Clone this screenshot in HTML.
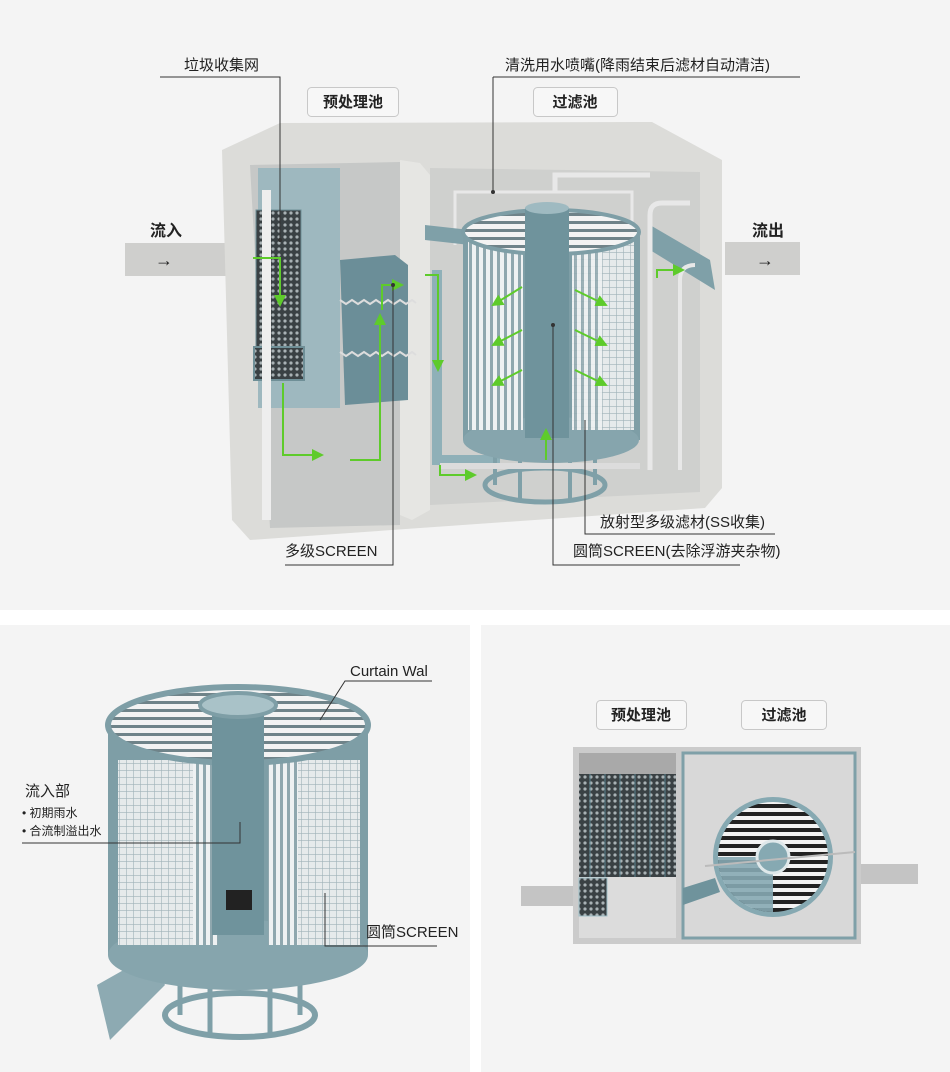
<!DOCTYPE html>
<html><head><meta charset="utf-8"><style>
body{margin:0;width:950px;height:1072px;background:#fff;font-family:"Liberation Sans","Noto Sans CJK SC",sans-serif;}
svg{display:block}
text{font-family:"Liberation Sans","Noto Sans CJK SC",sans-serif;fill:#222}
</style></head><body>
<svg width="950" height="1072" viewBox="0 0 950 1072" xmlns="http://www.w3.org/2000/svg">
<defs>
<pattern id="vs" width="7" height="10" patternUnits="userSpaceOnUse"><rect width="7" height="10" fill="#eef1f2"/><rect width="3" height="10" fill="#8fa7ae"/></pattern>
<pattern id="grid" width="7" height="7" patternUnits="userSpaceOnUse"><rect width="7" height="7" fill="#e6eaeb"/><path d="M0 0H7M0 0V7" stroke="#9fb2b8" stroke-width="1.2"/></pattern>
<pattern id="mesh" width="6" height="6" patternUnits="userSpaceOnUse"><rect width="6" height="6" fill="#3a4144"/><circle cx="3" cy="3" r="1.6" fill="#a9b2b5"/></pattern>
<pattern id="spiral" width="8" height="8" patternUnits="userSpaceOnUse"><rect width="8" height="8" fill="#6f8389"/><rect width="8" height="5" fill="#f3f3f3"/></pattern>
<pattern id="spiral2" width="8" height="8" patternUnits="userSpaceOnUse"><rect width="8" height="8" fill="#222"/><rect width="8" height="4" fill="#f3f3f3"/></pattern>
<marker id="ga" markerWidth="6" markerHeight="6" refX="5" refY="3" orient="auto"><path d="M0,0 L6,3 L0,6z" fill="#5ecb2b"/></marker>
</defs>
<rect x="0" y="0" width="950" height="610" fill="#f4f4f4"/>
<rect x="0" y="625" width="470" height="447" fill="#f4f4f4"/>
<rect x="481" y="625" width="469" height="447" fill="#f4f4f4"/>

<rect x="125" y="243" width="115" height="33" fill="#cfcfcd"/>
<rect x="725" y="242" width="75" height="33" fill="#cfcfcd"/>
<polygon points="222,150 280,123 652,122 722,160 722,488 705,508 250,540 232,520" fill="#dcdcd9"/>
<polygon points="250,165 400,162 400,525 270,528" fill="#c6c8c7"/>
<polygon points="430,168 700,172 700,492 430,505" fill="#cfd0ce"/>
<polygon points="400,160 420,163 430,175 430,510 412,520 400,515" fill="#e6e6e3"/>
<rect x="258" y="168" width="82" height="240" fill="#9eb8bf"/>
<rect x="256" y="210" width="45" height="150" fill="url(#mesh)" stroke="#6f8f97"/>
<rect x="254" y="347" width="50" height="33" fill="url(#mesh)" stroke="#6f8f97" stroke-width="2"/>
<rect x="262" y="190" width="9" height="330" fill="#eeeeee"/>
<polygon points="340,260 395,255 408,265 408,400 345,405" fill="#6b8e98"/>
<path d="M340 300 l6 4 l6 -4 l6 4 l6 -4 l6 4 l6 -4 l6 4 l6 -4 l6 4 l6 -4 l6 4 l6 -4 l4 3 M340 352 l6 4 l6 -4 l6 4 l6 -4 l6 4 l6 -4 l6 4 l6 -4 l6 4 l6 -4 l6 4 l6 -4 l4 3" stroke="#ddd" stroke-width="2" fill="none"/>
<path d="M437 270 V460 H500" stroke="#8fb0b8" stroke-width="10" fill="none"/>
<polyline points="455,245 455,192 632,192 632,245" stroke="#e8e8e8" stroke-width="3" fill="none"/>
<polyline points="555,192 555,175 650,175" stroke="#e8e8e8" stroke-width="5" fill="none"/>
<polygon points="650,225 710,260 715,290 650,250" fill="#7fa0a8"/>
<polygon points="425,225 470,230 470,245 425,240" fill="#7fa0a8"/>
<path d="M650 470 V215 Q650 203 662 203 H690" stroke="#e8e8e8" stroke-width="5" fill="none"/>
<path d="M680 470 V280 Q680 265 695 265" stroke="#e8e8e8" stroke-width="4" fill="none"/>
<ellipse cx="545" cy="485" rx="60" ry="17" fill="none" stroke="#7fa0a8" stroke-width="5"/>
<path d="M495 440 V485 M520 440 V500 M570 440 V500 M595 440 V485" stroke="#7fa0a8" stroke-width="4"/>
<rect x="440" y="463" width="200" height="6" fill="#dcdcdc"/>
<rect x="463" y="228" width="177" height="212" fill="#7e9ea6"/>
<ellipse cx="551" cy="440" rx="88" ry="23" fill="#86a5ad"/>
<rect x="468" y="240" width="55" height="190" fill="url(#vs)"/>
<rect x="572" y="240" width="62" height="190" fill="url(#grid)"/>
<rect x="572" y="240" width="30" height="190" fill="url(#vs)" opacity=".85"/>
<ellipse cx="551" cy="232" rx="88" ry="22" fill="url(#spiral)" stroke="#7e9ea6" stroke-width="4"/>
<rect x="525" y="208" width="44" height="230" fill="#6f939c"/>
<ellipse cx="547" cy="208" rx="22" ry="6" fill="#9fbac1"/>
<g stroke="#5ecb2b" stroke-width="2" fill="none" marker-end="url(#ga)">
<path d="M253 258 H280 V305"/>
<path d="M283 383 V455 H322"/>
<path d="M350 460 H380 V315"/>
<path d="M382 310 V285 H402"/>
<path d="M425 275 H438 V370"/>
<path d="M440 465 V475 H475"/>
<path d="M522 287 L493 305"/><path d="M522 330 L493 345"/><path d="M522 370 L493 385"/>
<path d="M575 290 L606 305"/><path d="M575 330 L606 345"/><path d="M575 370 L606 385"/>
<path d="M546 460 V430"/>
<path d="M657 278 V270 H683"/>
</g>
<text x="184" y="70" font-size="15">垃圾收集网</text>
<path d="M160 77 H280 V240" stroke="#333" fill="none"/>
<circle cx="280" cy="240" r="2" fill="#333"/>
<rect x="307.5" y="87.5" width="91" height="29" rx="4" fill="#f7f7f7" stroke="#c8c8c8"/>
<text x="353" y="107" font-size="15" font-weight="bold" text-anchor="middle">预处理池</text>
<rect x="533.5" y="87.5" width="84" height="29" rx="4" fill="#f7f7f7" stroke="#c8c8c8"/>
<text x="575" y="107" font-size="15" font-weight="bold" text-anchor="middle">过滤池</text>
<text x="505" y="70" font-size="15">清洗用水喷嘴(降雨结束后滤材自动清洁)</text>
<path d="M493 77 H800 M493 77 V192" stroke="#333" fill="none"/>
<circle cx="493" cy="192" r="2" fill="#333"/>
<text x="150" y="236" font-size="16" font-weight="bold">流入</text>
<text x="155" y="266" font-size="18">→</text>
<text x="752" y="236" font-size="16" font-weight="bold">流出</text>
<text x="756" y="266" font-size="18">→</text>
<text x="600" y="527" font-size="15">放射型多级滤材(SS收集)</text>
<path d="M585 420 V534 H775" stroke="#333" fill="none"/>
<text x="573" y="556" font-size="15">圆筒SCREEN(去除浮游夹杂物)</text>
<path d="M553 325 V565 H740" stroke="#333" fill="none"/>
<circle cx="553" cy="325" r="2" fill="#333"/>
<text x="285" y="556" font-size="15">多级SCREEN</text>
<path d="M285 565 H393 V285" stroke="#333" fill="none"/>
<circle cx="393" cy="285" r="2" fill="#333"/>

<ellipse cx="240" cy="1015" rx="75" ry="22" fill="none" stroke="#7fa0a8" stroke-width="6"/>
<path d="M180 960 V1015 M210 960 V1035 M270 960 V1035 M300 960 V1015" stroke="#7fa0a8" stroke-width="5"/>
<polygon points="97,985 150,955 165,985 110,1040" fill="#8daab2"/>
<rect x="108" y="725" width="260" height="230" fill="#7e9ea6"/>
<ellipse cx="238" cy="955" rx="130" ry="35" fill="#86a5ad"/>
<rect x="118" y="760" width="75" height="185" fill="url(#grid)"/>
<rect x="193" y="745" width="25" height="200" fill="url(#vs)"/>
<rect x="268" y="745" width="30" height="200" fill="url(#vs)"/>
<rect x="298" y="760" width="62" height="185" fill="url(#grid)"/>
<ellipse cx="238" cy="725" rx="130" ry="38" fill="url(#spiral)" stroke="#7e9ea6" stroke-width="6"/>
<rect x="212" y="705" width="52" height="230" fill="#6f939c"/>
<ellipse cx="238" cy="705" rx="38" ry="12" fill="#a9c2c8" stroke="#7e9ea6" stroke-width="4"/>
<rect x="226" y="890" width="26" height="20" fill="#222"/>
<text x="350" y="676" font-size="15">Curtain Wal</text>
<path d="M432 681 H345 L320 720" stroke="#333" fill="none"/>
<text x="25" y="796" font-size="15">流入部</text>
<text x="22" y="817" font-size="12">•  初期雨水</text>
<text x="22" y="835" font-size="12">•  合流制溢出水</text>
<path d="M22 843 H240 V822" stroke="#333" fill="none"/>
<text x="366" y="937" font-size="15">圆筒SCREEN</text>
<path d="M437 946 H325 V893" stroke="#333" fill="none"/>

<rect x="596.5" y="700.5" width="90" height="29" rx="4" fill="#f7f7f7" stroke="#c8c8c8"/>
<text x="641" y="720" font-size="15" font-weight="bold" text-anchor="middle">预处理池</text>
<rect x="741.5" y="700.5" width="85" height="29" rx="4" fill="#f7f7f7" stroke="#c8c8c8"/>
<text x="784" y="720" font-size="15" font-weight="bold" text-anchor="middle">过滤池</text>
<rect x="521" y="886" width="55" height="20" fill="#c4c4c4"/>
<rect x="858" y="864" width="60" height="20" fill="#c4c4c4"/>
<rect x="573" y="747" width="288" height="197" fill="#cbcbcb"/>
<rect x="579" y="753" width="97" height="185" fill="#dcdcdc"/>
<rect x="579" y="753" width="97" height="21" fill="#a9a9a9"/>
<rect x="579" y="774" width="97" height="103" fill="url(#mesh)"/>
<path d="M590 774V877M605 774V877M620 774V877M635 774V877M650 774V877M665 774V877" stroke="#5f8c98" stroke-width="1.5" opacity=".6"/>
<rect x="579" y="878" width="28" height="38" fill="url(#mesh)" stroke="#9fc0c8"/>
<rect x="683" y="753" width="172" height="185" fill="#d8d8d8" stroke="#7fa0a8" stroke-width="3"/>
<circle cx="773" cy="857" r="60" fill="#86a9b2"/>
<circle cx="773" cy="857" r="55" fill="url(#spiral2)"/>
<path d="M773 857 L773 912 A55 55 0 0 1 718 857 Z" fill="#86a9b2" opacity=".9"/>
<circle cx="773" cy="857" r="16" fill="#86a9b2" stroke="#dfe8ea" stroke-width="3"/>
<line x1="705" y1="866" x2="855" y2="852" stroke="#bbb" stroke-width="2"/>
<polygon points="683,888 715,878 720,892 683,905" fill="#6f939c"/>
</svg>
</body></html>
